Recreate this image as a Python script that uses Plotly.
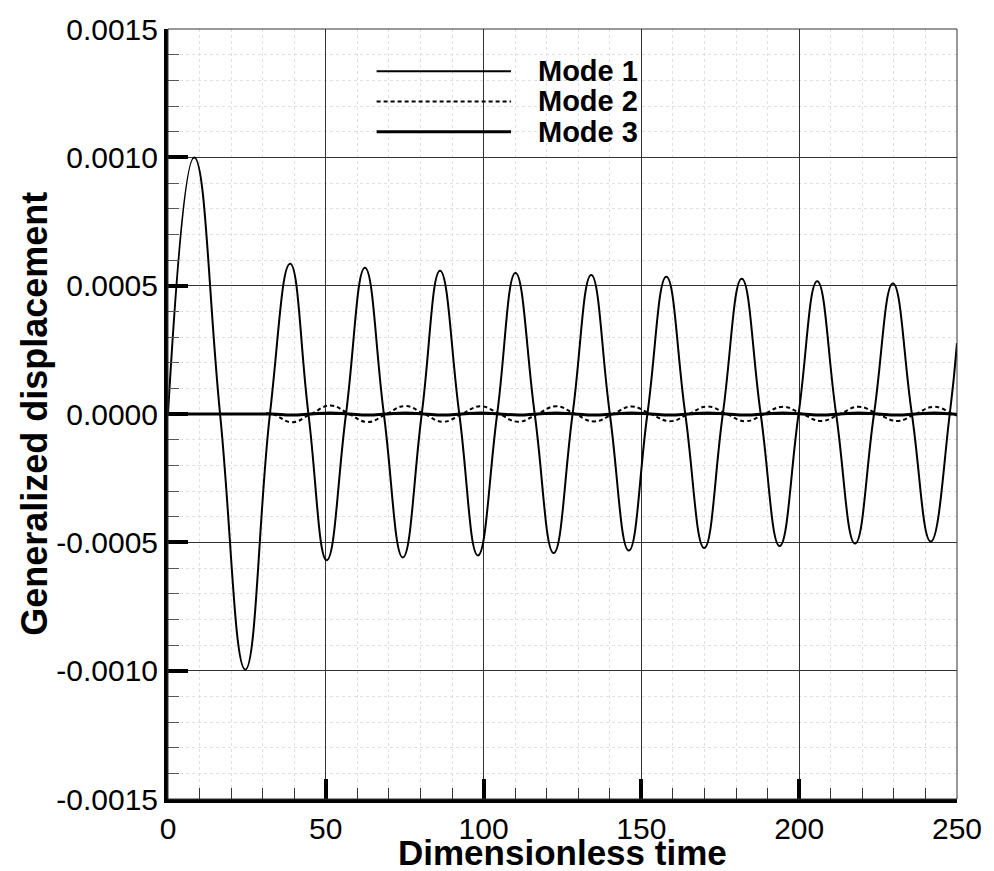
import plotly.graph_objects as go

# ---- data ----
mode1_t = [0, 8.3, 16.5, 24.5, 32.3, 38.7, 44.5, 50.3, 56.4, 62.4, 68.4, 74.4, 80.4, 86.2,
           92.3, 98.2, 104.3, 110.1, 116.2, 122.2, 128.2, 134.1, 140.0, 146.0, 151.9, 157.9,
           163.9, 169.9, 175.8, 181.8, 187.8, 193.8, 199.8, 205.7, 211.7, 217.7, 223.7, 229.7,
           235.7, 241.7, 247.7, 250]
mode1_y = [0, 0.000999, 0, -0.000996, 0, 0.000585, 0, -0.000570, 0, 0.000570, 0, -0.000559,
           0, 0.000558, 0, -0.000551, 0, 0.000549, 0, -0.000542, 0, 0.000542, 0, -0.000532,
           0, 0.000535, 0, -0.000522, 0, 0.000527, 0, -0.000514, 0, 0.000517, 0, -0.000505,
           0, 0.000508, 0, -0.000497, 0, 0.000276]

mode2_t = [0, 28.0, 33.0, 39.2, 45.3, 51.5, 57.4, 63.3, 69.2, 75.2, 81.2, 87.2, 93.1, 99.1,
           105.0, 111.0, 117.0, 123.0, 129.0, 135.0, 141.0, 146.9, 153.0, 159.1, 165.0, 170.9,
           177.0, 183.0, 188.9, 194.8, 200.9, 207.0, 212.9, 218.8, 224.9, 231.0, 236.9, 242.7,
           248.7, 250]
mode2_y = [0, 0, 0, -0.000032, 0, 0.000033, 0, -0.000031, 0, 0.000031, 0, -0.000030, 0,
           0.000030, 0, -0.000030, 0, 0.000030, 0, -0.000029, 0, 0.000029, 0, -0.000028, 0,
           0.000029, 0, -0.000028, 0, 0.000028, 0, -0.000027, 0, 0.000028, 0, -0.000027, 0,
           0.000028, 0, -0.000006]

mode3_t = mode2_t
mode3_y = [0, 0, 0, -0.000004, 0, 0.000004, 0, -0.000004, 0, 0.000004, 0, -0.000004, 0,
           0.000004, 0, -0.000004, 0, 0.000004, 0, -0.000004, 0, 0.000004, 0, -0.000004, 0,
           0.000004, 0, -0.000004, 0, 0.000004, 0, -0.000004, 0, 0.000004, 0, -0.000004, 0,
           0.000004, 0, -0.000001]

x_tick_vals = [0, 50, 100, 150, 200, 250]
x_tick_text = ["0", "50", "100", "150", "200", "250"]
y_tick_vals = [-0.0015, -0.0010, -0.0005, 0.0, 0.0005, 0.0010, 0.0015]
y_tick_text = ["-0.0015", "-0.0010", "-0.0005", "0.0000", "0.0005", "0.0010", "0.0015"]

series_names = ["Mode 1", "Mode 2", "Mode 3"]

FONT = "Liberation Sans, Arial, Helvetica, sans-serif"

fig = go.Figure()
fig.add_trace(go.Scatter(x=mode1_t, y=mode1_y, mode="lines", name=series_names[0],
                         line=dict(color="black", width=2, shape="spline", smoothing=1.3)))
fig.add_trace(go.Scatter(x=mode2_t, y=mode2_y, mode="lines", name=series_names[1],
                         line=dict(color="black", width=2, dash="4px,3px", shape="spline", smoothing=1.3)))
fig.add_trace(go.Scatter(x=mode3_t, y=mode3_y, mode="lines", name=series_names[2],
                         line=dict(color="black", width=3, shape="spline", smoothing=1.3)))

axis_common = dict(
    ticks="inside", ticklen=20, tickwidth=4, tickcolor="black",
    showline=True, linewidth=4, linecolor="black",
    showgrid=True, gridcolor="#333333", gridwidth=1, zeroline=False,
    tickfont=dict(size=30, family=FONT, color="black"),
)

fig.update_xaxes(range=[0, 250], tickmode="array", tickvals=x_tick_vals, ticktext=x_tick_text,
                 minor=dict(dtick=10, tick0=0, ticks="inside", ticklen=11, tickwidth=1,
                            tickcolor="#333333", showgrid=True, gridcolor="#e0e0e0",
                            griddash="dot", gridwidth=1),
                 **axis_common)
fig.update_yaxes(range=[-0.0015, 0.0015], tickmode="array", tickvals=y_tick_vals, ticktext=y_tick_text,
                 minor=dict(dtick=0.0001, tick0=0, ticks="inside", ticklen=11, tickwidth=1,
                            tickcolor="#555555", showgrid=True, gridcolor="#e0e0e0",
                            griddash="dot", gridwidth=1),
                 **axis_common)

# frame (top/right thin lines)
shapes = [dict(type="rect", xref="paper", yref="paper", x0=0, x1=1, y0=0, y1=1,
               line=dict(color="#333333", width=1), layer="above")]

# manual legend
leg_y = [0.9452, 0.9059, 0.8665]
leg_dash = ["solid", "4px,3px", "solid"]
leg_w = [2, 2, 3]
annotations = []
for name, yy, dsh, w in zip(series_names, leg_y, leg_dash, leg_w):
    shapes.append(dict(type="line", xref="paper", yref="paper", x0=0.2644, x1=0.4348, y0=yy, y1=yy,
                       line=dict(color="black", width=w, dash=dsh)))
    annotations.append(dict(text="<b>%s</b>" % name, xref="paper", yref="paper", x=0.4662, y=yy,
                            xanchor="left", yanchor="middle", showarrow=False,
                            font=dict(size=29, family=FONT, color="black")))

annotations.append(dict(text="<b>Dimensionless time</b>", xref="paper", yref="paper", x=0.5, y=-0.069,
                        xanchor="center", yanchor="middle", showarrow=False,
                        font=dict(size=35, family=FONT, color="black")))
annotations.append(dict(text="<b>Generalized displacement</b>", xref="paper", yref="paper", x=-0.170, y=0.5,
                        xanchor="center", yanchor="middle", showarrow=False, textangle=-90,
                        font=dict(size=36, family=FONT, color="black")))

fig.update_layout(width=994, height=871, margin=dict(l=168, r=28, t=20, b=72),
                  plot_bgcolor="white", paper_bgcolor="white", showlegend=False,
                  font=dict(family=FONT, color="black"),
                  shapes=shapes, annotations=annotations)

fig.write_html("out.html", config={"displayModeBar": False},
               post_script="document.body.style.margin='0px';document.body.style.overflow='hidden';")
